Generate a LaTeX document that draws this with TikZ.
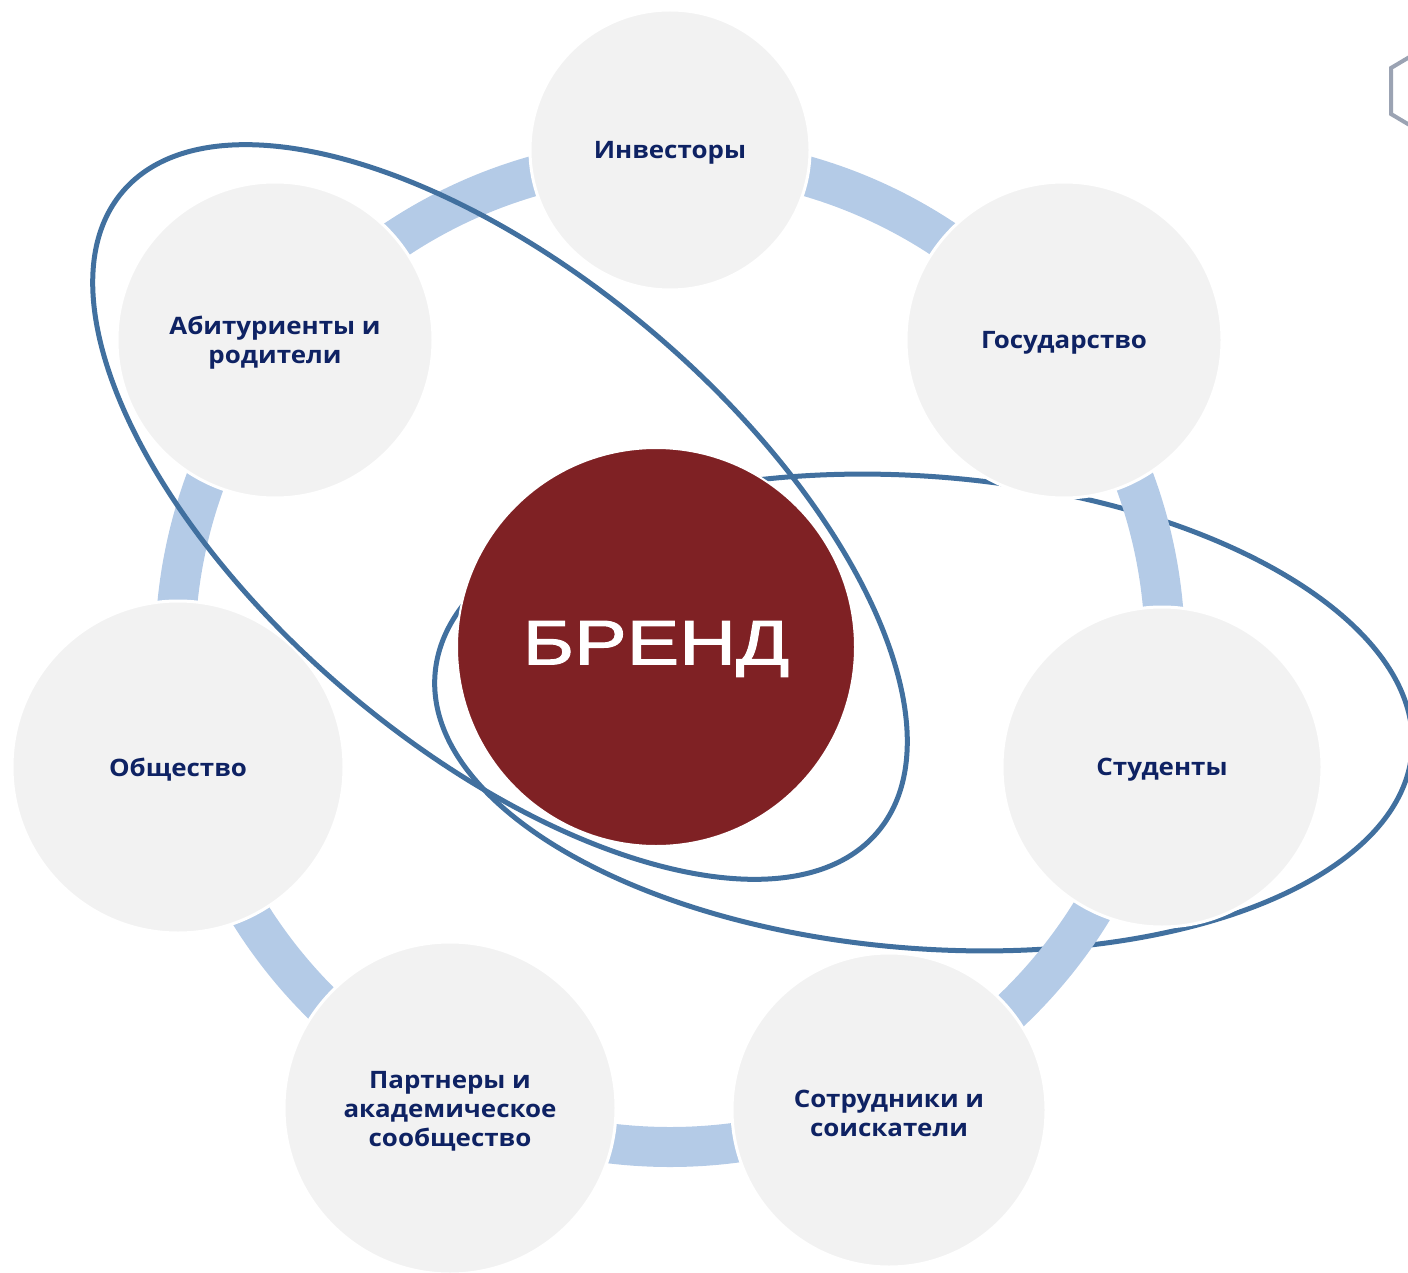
\documentclass[tikz,border=0pt]{standalone}
\usepackage{fontspec}
\newfontfamily\lblfont{Open Sans}[FakeStretch=1.08]
\newfontfamily\brandfont{Liberation Sans}[FakeStretch=1.25,FakeBold=1.6]
\definecolor{ringblue}{HTML}{B4CBE7}
\definecolor{orbitblue}{HTML}{41709F}
\definecolor{stakegrey}{HTML}{F2F2F2}
\definecolor{navy}{HTML}{0E2263}
\definecolor{brandred}{HTML}{7F2124}
\definecolor{hexgrey}{HTML}{9BA3B3}
\tikzset{
  orbit/.style={draw=orbitblue, line width=2.5pt},
  ringband/.style={draw=ringblue, line width=20pt},
  stake/.style={circle, fill=stakegrey, draw=white, line width=1.5pt, inner sep=0pt},
  stakelabel/.style={inner sep=0pt, text=navy, align=center,
    font=\lblfont\bfseries\fontsize{12pt}{14.5pt}\selectfont},
  brand/.style={circle, fill=brandred, draw=white, line width=1pt, inner sep=0pt,
    minimum size=199pt},
  brandlabel/.style={inner sep=0pt, text=white, font=\brandfont\fontsize{31.5pt}{34pt}\selectfont},
  hexline/.style={draw=hexgrey, line width=2pt}
}
\begin{document}
\begin{tikzpicture}[x=0.5pt,y=-0.5pt]
\useasboundingbox (0,0) rectangle (1408,1273);
\clip (0,0) rectangle (1408,1273);
% lower orbit (behind everything)
\draw[orbit, rotate around={-4.5:(923.5,712.5)}] (923.5,712.5) ellipse [x radius=245pt, y radius=118pt];
% ring
\draw[ringband] (670,652) circle [radius=247.5pt];
% stakeholder circles
\node[stake, minimum size=140pt] (inv) at (670,150) {};
\node[stake, minimum size=158pt] (gos) at (1064,340) {};
\node[stake, minimum size=160pt] (stud) at (1162,767) {};
\node[stake, minimum size=157pt] (sotr) at (889,1110) {};
\node[stake, minimum size=166pt] (part) at (450,1108) {};
\node[stake, minimum size=166pt] (obsh) at (178,767) {};
\node[stake, minimum size=158pt] (abit) at (275,340) {};
\node[stakelabel] (inv-t) at ([yshift=-1.5pt]inv.center) {Инвесторы};
\node[stakelabel] (gos-t) at ([yshift=-1.5pt]gos.center) {Государство};
\node[stakelabel] (stud-t) at ([yshift=-1.5pt]stud.center) {Студенты};
\node[stakelabel] (sotr-t) at ([yshift=-1.5pt]sotr.center) {Сотрудники и\\соискатели};
\node[stakelabel] (part-t) at ([yshift=-1.5pt]part.center) {Партнеры и\\академическое\\сообщество};
\node[stakelabel] (obsh-t) at ([yshift=-1.5pt]obsh.center) {Общество};
\node[stakelabel] (abit-t) at ([yshift=-1.5pt]abit.center) {Абитуриенты и\\родители};
% brand
\node[brand] (brand) at (656,647) {};
\node[brandlabel] (brand-t) at ([yshift=-1pt]brand.center) {БРЕНД};
% upper orbit (on top)
\draw[orbit, rotate around={-40.3:(500,512)}] (500,512) ellipse [x radius=247.5pt, y radius=118pt];
% partial hexagon at top right
\draw[hexline] (1428,46) -- (1391,68) -- (1391,114) -- (1428,136);
\end{tikzpicture}
\end{document}
